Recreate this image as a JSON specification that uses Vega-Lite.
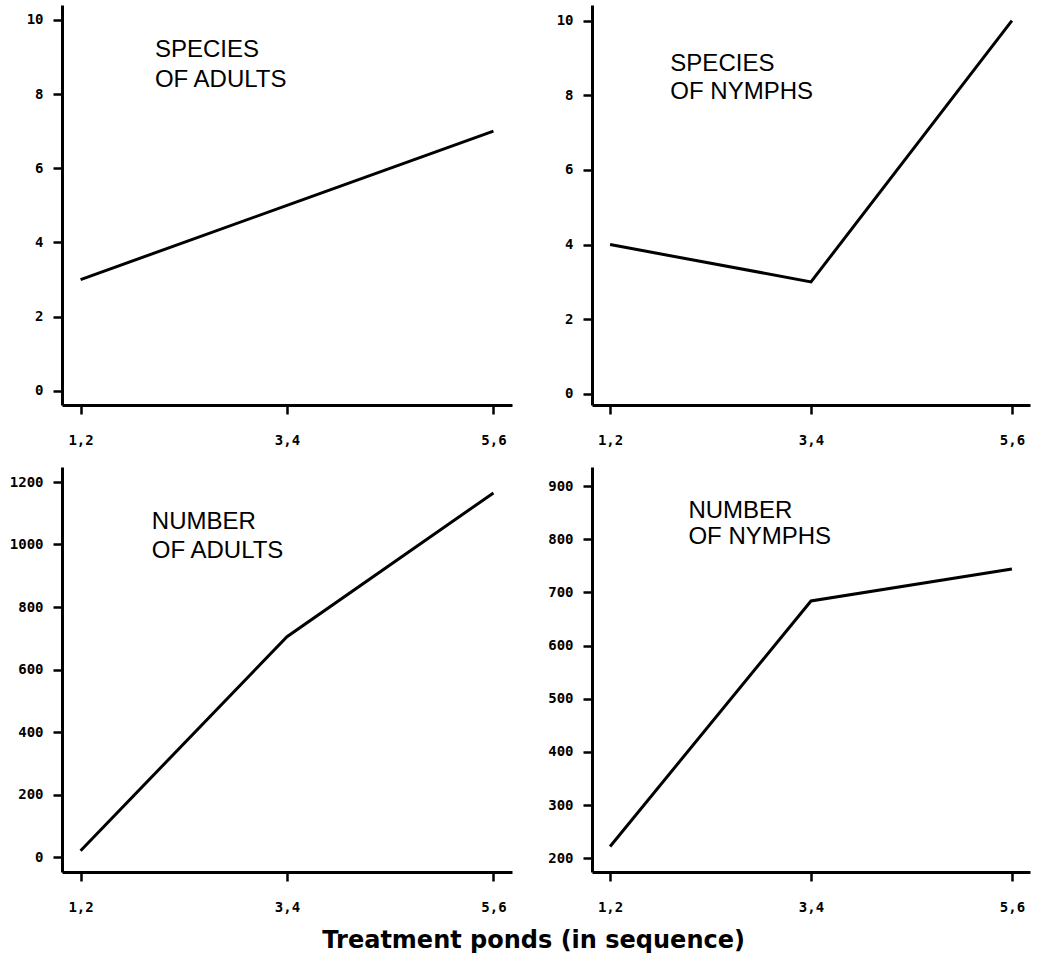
{
  "$schema": "https://vega.github.io/schema/vega-lite/v6.json",
  "background": "white",
  "padding": {"left": 9, "top": 5, "right": 5, "bottom": 5},
  "data": {"values": [
    {"panel": "species_adults", "seq": 1, "ponds": "1,2", "value": 3},
    {"panel": "species_adults", "seq": 2, "ponds": "3,4", "value": 5},
    {"panel": "species_adults", "seq": 3, "ponds": "5,6", "value": 7},
    {"panel": "species_nymphs", "seq": 1, "ponds": "1,2", "value": 4},
    {"panel": "species_nymphs", "seq": 2, "ponds": "3,4", "value": 3},
    {"panel": "species_nymphs", "seq": 3, "ponds": "5,6", "value": 10},
    {"panel": "number_adults", "seq": 1, "ponds": "1,2", "value": 20},
    {"panel": "number_adults", "seq": 2, "ponds": "3,4", "value": 705},
    {"panel": "number_adults", "seq": 3, "ponds": "5,6", "value": 1165},
    {"panel": "number_nymphs", "seq": 1, "ponds": "1,2", "value": 222},
    {"panel": "number_nymphs", "seq": 2, "ponds": "3,4", "value": 684},
    {"panel": "number_nymphs", "seq": 3, "ponds": "5,6", "value": 744}
  ]},
  "title": {
    "text": "Treatment ponds (in sequence)",
    "orient": "bottom",
    "anchor": "middle",
    "font": "DejaVu Sans",
    "fontWeight": "bold",
    "fontSize": 24,
    "color": "black",
    "offset": 15,
    "dx": 14
  },
  "columns": 2,
  "spacing": {"row": 62, "column": 80},
  "bounds": "flush",
  "config": {
    "view": {"stroke": null},
    "axis": {
      "domainColor": "black",
      "domainWidth": 3,
      "tickColor": "black",
      "tickWidth": 2.5,
      "tickSize": 9,
      "grid": false,
      "labelFont": "DejaVu Sans Mono",
      "labelFontWeight": "bold",
      "labelFontSize": 14,
      "labelColor": "black",
      "title": null
    },
    "axisX": {"labelPadding": 19, "labelFlush": false},
    "axisY": {"labelPadding": 10}
  },
  "concat": [
    {
      "width": 450, "height": 400,
      "layer": [
        {
          "transform": [{"filter": "datum.panel == 'species_adults'"}],
          "mark": {"type": "line", "color": "black", "strokeWidth": 3},
          "encoding": {
            "x": {"field": "seq", "type": "quantitative", "scale": {"domain": [0.91, 3.09], "nice": false, "zero": false},
                  "axis": {"values": [1, 2, 3], "labelExpr": "datum.value == 1 ? '1,2' : datum.value == 2 ? '3,4' : '5,6'"}},
            "y": {"field": "value", "type": "quantitative", "scale": {"domain": [-0.38, 10.4], "nice": false, "zero": false},
                  "axis": {"values": [0, 2, 4, 6, 8, 10], "format": "d"}}
          }
        },
        {
          "data": {"values": [{"label": "SPECIES\nOF ADULTS"}]},
          "mark": {"type": "text", "align": "left", "baseline": "alphabetic", "font": "Liberation Sans", "fontSize": 24, "lineHeight": 30, "lineBreak": "\n", "color": "black"},
          "encoding": {
            "x": {"datum": 1.36, "type": "quantitative"},
            "y": {"datum": 9.0, "type": "quantitative"},
            "text": {"field": "label"}
          }
        }
      ]
    },
    {
      "width": 438, "height": 400,
      "layer": [
        {
          "transform": [{"filter": "datum.panel == 'species_nymphs'"}],
          "mark": {"type": "line", "color": "black", "strokeWidth": 3},
          "encoding": {
            "x": {"field": "seq", "type": "quantitative", "scale": {"domain": [0.91, 3.09], "nice": false, "zero": false},
                  "axis": {"values": [1, 2, 3], "labelExpr": "datum.value == 1 ? '1,2' : datum.value == 2 ? '3,4' : '5,6'"}},
            "y": {"field": "value", "type": "quantitative", "scale": {"domain": [-0.3, 10.42], "nice": false, "zero": false},
                  "axis": {"values": [0, 2, 4, 6, 8, 10], "format": "d"}}
          }
        },
        {
          "data": {"values": [{"label": "SPECIES\nOF NYMPHS"}]},
          "mark": {"type": "text", "align": "left", "baseline": "alphabetic", "font": "Liberation Sans", "fontSize": 24, "lineHeight": 28, "lineBreak": "\n", "color": "black"},
          "encoding": {
            "x": {"datum": 1.3, "type": "quantitative"},
            "y": {"datum": 8.66, "type": "quantitative"},
            "text": {"field": "label"}
          }
        }
      ]
    },
    {
      "width": 450, "height": 405,
      "layer": [
        {
          "transform": [{"filter": "datum.panel == 'number_adults'"}],
          "mark": {"type": "line", "color": "black", "strokeWidth": 3},
          "encoding": {
            "x": {"field": "seq", "type": "quantitative", "scale": {"domain": [0.91, 3.09], "nice": false, "zero": false},
                  "axis": {"values": [1, 2, 3], "labelExpr": "datum.value == 1 ? '1,2' : datum.value == 2 ? '3,4' : '5,6'"}},
            "y": {"field": "value", "type": "quantitative", "scale": {"domain": [-48, 1248], "nice": false, "zero": false},
                  "axis": {"values": [0, 200, 400, 600, 800, 1000, 1200], "format": "d"}}
          }
        },
        {
          "data": {"values": [{"label": "NUMBER\nOF ADULTS"}]},
          "mark": {"type": "text", "align": "left", "baseline": "alphabetic", "font": "Liberation Sans", "fontSize": 24, "lineHeight": 29, "lineBreak": "\n", "color": "black"},
          "encoding": {
            "x": {"datum": 1.345, "type": "quantitative"},
            "y": {"datum": 1050, "type": "quantitative"},
            "text": {"field": "label"}
          }
        }
      ]
    },
    {
      "width": 438, "height": 405,
      "layer": [
        {
          "transform": [{"filter": "datum.panel == 'number_nymphs'"}],
          "mark": {"type": "line", "color": "black", "strokeWidth": 3},
          "encoding": {
            "x": {"field": "seq", "type": "quantitative", "scale": {"domain": [0.91, 3.09], "nice": false, "zero": false},
                  "axis": {"values": [1, 2, 3], "labelExpr": "datum.value == 1 ? '1,2' : datum.value == 2 ? '3,4' : '5,6'"}},
            "y": {"field": "value", "type": "quantitative", "scale": {"domain": [174, 936], "nice": false, "zero": false},
                  "axis": {"values": [200, 300, 400, 500, 600, 700, 800, 900], "format": "d"}}
          }
        },
        {
          "data": {"values": [{"label": "NUMBER\nOF NYMPHS"}]},
          "mark": {"type": "text", "align": "left", "baseline": "alphabetic", "font": "Liberation Sans", "fontSize": 24, "lineHeight": 26, "lineBreak": "\n", "color": "black"},
          "encoding": {
            "x": {"datum": 1.39, "type": "quantitative"},
            "y": {"datum": 840, "type": "quantitative"},
            "text": {"field": "label"}
          }
        }
      ]
    }
  ]
}
